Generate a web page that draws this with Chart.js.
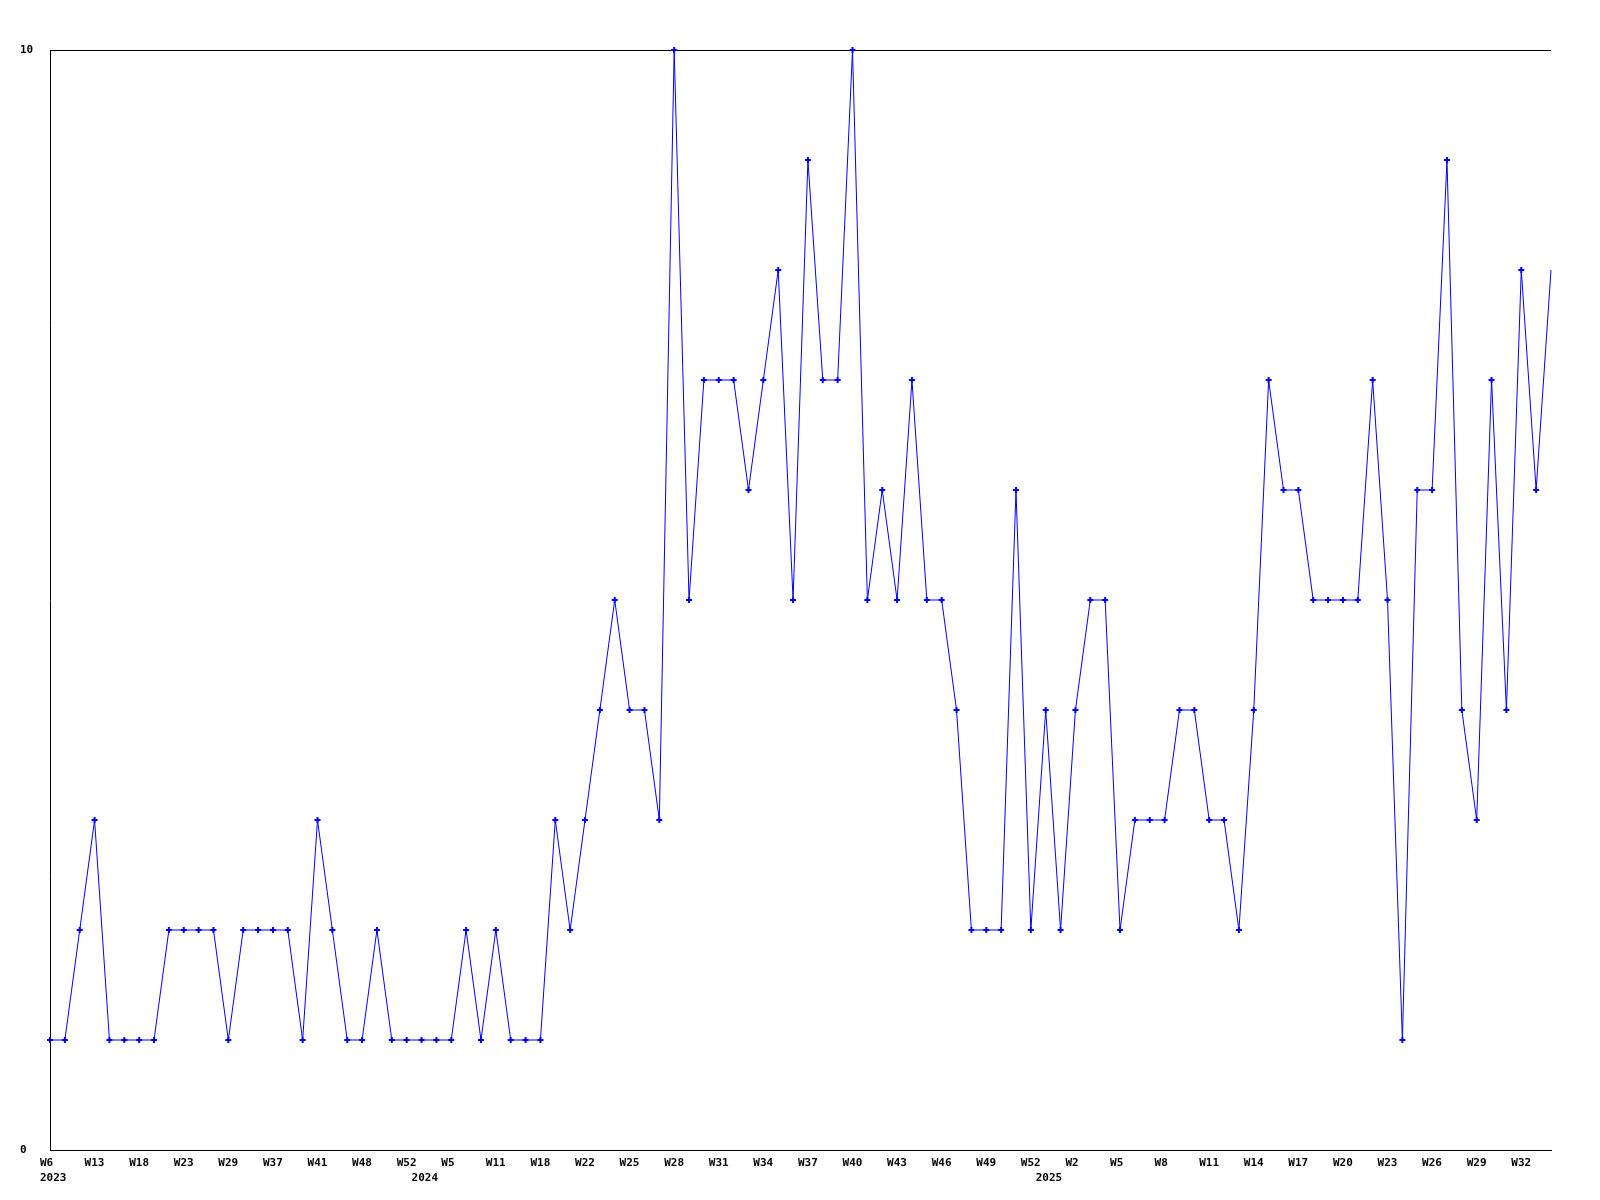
<!DOCTYPE html>
<html>
<head>
<meta charset="utf-8">
<script src="https://cdn.jsdelivr.net/npm/chart.js@4/dist/chart.umd.min.js"></script>
<style>
  body { margin: 0; background: #fff; }
  #wrap { width: 1600px; height: 1200px; }
</style>
</head>
<body>
<div id="wrap"><canvas id="plot" width="1600" height="1200"></canvas></div>
<script>
const plot = document.querySelector("#plot");
const ctx = plot.getContext("2d");

// week of each point (only every third one is shown on the axis)
const weeks = [
  "W6", "W9", "W11", "W13", "W15", "W16", "W18", "W20", "W21", "W23",
  "W25", "W27", "W29", "W32", "W35", "W37", "W38", "W40", "W41", "W44",
  "W46", "W48", "W50", "W51", "W52", "W1", "W3", "W5", "W7", "W9",
  "W11", "W14", "W16", "W18", "W20", "W21", "W22", "W23", "W24", "W25",
  "W26", "W27", "W28", "W29", "W30", "W31", "W32", "W33", "W34", "W35",
  "W36", "W37", "W38", "W39", "W40", "W41", "W42", "W43", "W44", "W45",
  "W46", "W47", "W48", "W49", "W50", "W51", "W52", "W1", "W1", "W2",
  "W3", "W4", "W5", "W6", "W7", "W8", "W9", "W10", "W11", "W12",
  "W13", "W14", "W15", "W16", "W17", "W18", "W19", "W20", "W21", "W22",
  "W23", "W24", "W25", "W26", "W27", "W28", "W29", "W30", "W31", "W32",
  "W33", "W34"
];

// year label shown under the first point of each year
const yearIdx = [0, 25, 67];
const years = ["2023", "2024", "2025"];

const counts = [
  1, 1, 2, 3, 1, 1, 1, 1, 2, 2,
  2, 2, 1, 2, 2, 2, 2, 1, 3, 2,
  1, 1, 2, 1, 1, 1, 1, 1, 2, 1,
  2, 1, 1, 1, 3, 2, 3, 4, 5, 4,
  4, 3, 10, 5, 7, 7, 7, 6, 7, 8,
  5, 9, 7, 7, 10, 5, 6, 5, 7, 5,
  5, 4, 2, 2, 2, 6, 2, 4, 2, 4,
  5, 5, 2, 3, 3, 3, 4, 4, 3, 3,
  2, 4, 7, 6, 6, 5, 5, 5, 5, 7,
  5, 1, 6, 6, 9, 4, 3, 7, 4, 8,
  6, 8
];

const FONT = { family: "DejaVu Sans Mono", size: 11, weight: "bold", lineHeight: 1.36 };

const xLabel = (val, i) => {
  const y = yearIdx.indexOf(i);
  if (i % 3 === 0) return y >= 0 ? [weeks[i], years[y]] : weeks[i];
  if (y >= 0) return ["", years[y]];
  return null;
};

const chart = new Chart(ctx, {
  type: "line",
  data: {
    labels: weeks,
    datasets: [{
      data: counts,
      borderColor: "#0000ff",
      backgroundColor: "#0000ff",
      borderWidth: 1,
      tension: 0,
      clip: false,
      pointStyle: "cross",
      pointRadius: c => (c.dataIndex === counts.length - 1 ? 0 : 3),
      pointBorderWidth: 2,
      pointBorderColor: "#0000ff"
    }]
  },
  options: {
    responsive: false,
    animation: false,
    events: [],
    layout: { padding: { left: 20, right: 49, top: 50, bottom: 0 } },
    plugins: { legend: { display: false }, tooltip: { enabled: false } },
    scales: {
      x: {
        type: "category",
        offset: false,
        grid: { display: false, drawTicks: false },
        border: { display: true, color: "#000", width: 1 },
        afterFit: s => { s.height = 50; },
        ticks: {
          autoSkip: false,
          maxRotation: 0,
          minRotation: 0,
          align: "start",
          labelOffset: -10,
          padding: 6,
          color: "#000",
          font: FONT,
          callback: xLabel
        }
      },
      y: {
        min: 0,
        max: 10,
        grid: { color: "#000", lineWidth: 1, drawTicks: false },
        border: { display: true, color: "#000", width: 1 },
        afterFit: s => { s.width = 30; },
        ticks: {
          stepSize: 10,
          crossAlign: "far",
          padding: 0,
          color: "#000",
          font: FONT
        }
      }
    }
  }
});
</script>
</body>
</html>
